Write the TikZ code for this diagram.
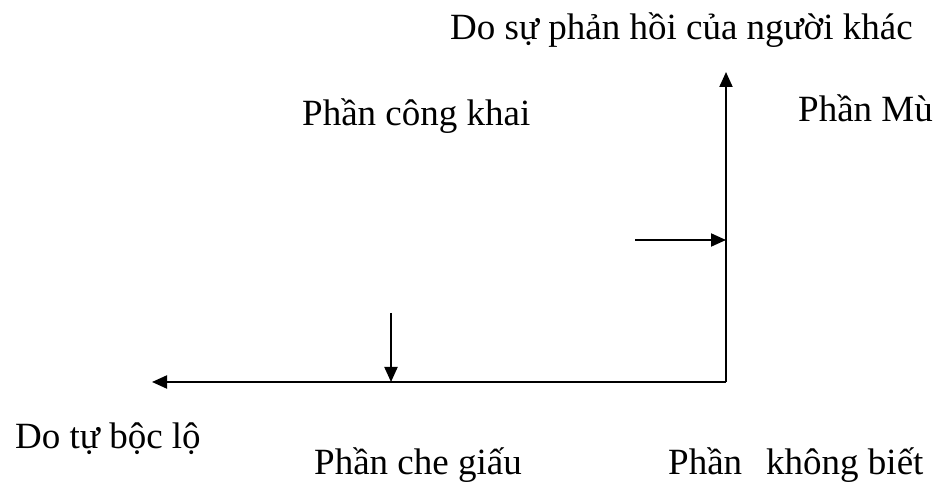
\documentclass[tikz,border=0pt]{standalone}
\usepackage{fontspec}
\setmainfont{Liberation Serif}
\usetikzlibrary{arrows.meta}

\begin{document}
\begin{tikzpicture}[x=1pt,y=1pt,>={Triangle[length=15pt,width=13pt]},
  lbl/.style={anchor=base west,inner sep=0pt,font=\fontsize{37}{44}\selectfont},
  axis/.style={line width=2pt}]
\useasboundingbox (0,0) rectangle (935,485);

% Corner of the two axes and the free ends of the arrows.
\coordinate (corner) at (726,103);
\coordinate (up) at (726,413);
\coordinate (left) at (152,103);
\coordinate (downstart) at (391,172);
\coordinate (downend) at (391,103);
\coordinate (rightstart) at (635,245);
\coordinate (rightend) at (726,245);

\draw[axis,->] (corner) -- (up);
\draw[axis,->] (corner) -- (left);
\draw[axis,->] (downstart) -- (downend);
\draw[axis,->] (rightstart) -- (rightend);

% Labels of the four parts and the two sources.
\node[lbl] (feedback) at (450,445) {Do sự phản hồi của người khác};
\node[lbl] (open) at (302,359) {Phần công khai};
\node[lbl] (blind) at (798,363) {Phần Mù};
\node[lbl] (disclose) at (15,37) {Do tự bộc lộ};
\node[lbl] (hidden) at (314,11) {Phần che giấu};
\node[lbl] (unknown) at (668,11) {Phần\hspace{0.65em}không biết};
\end{tikzpicture}
\end{document}
